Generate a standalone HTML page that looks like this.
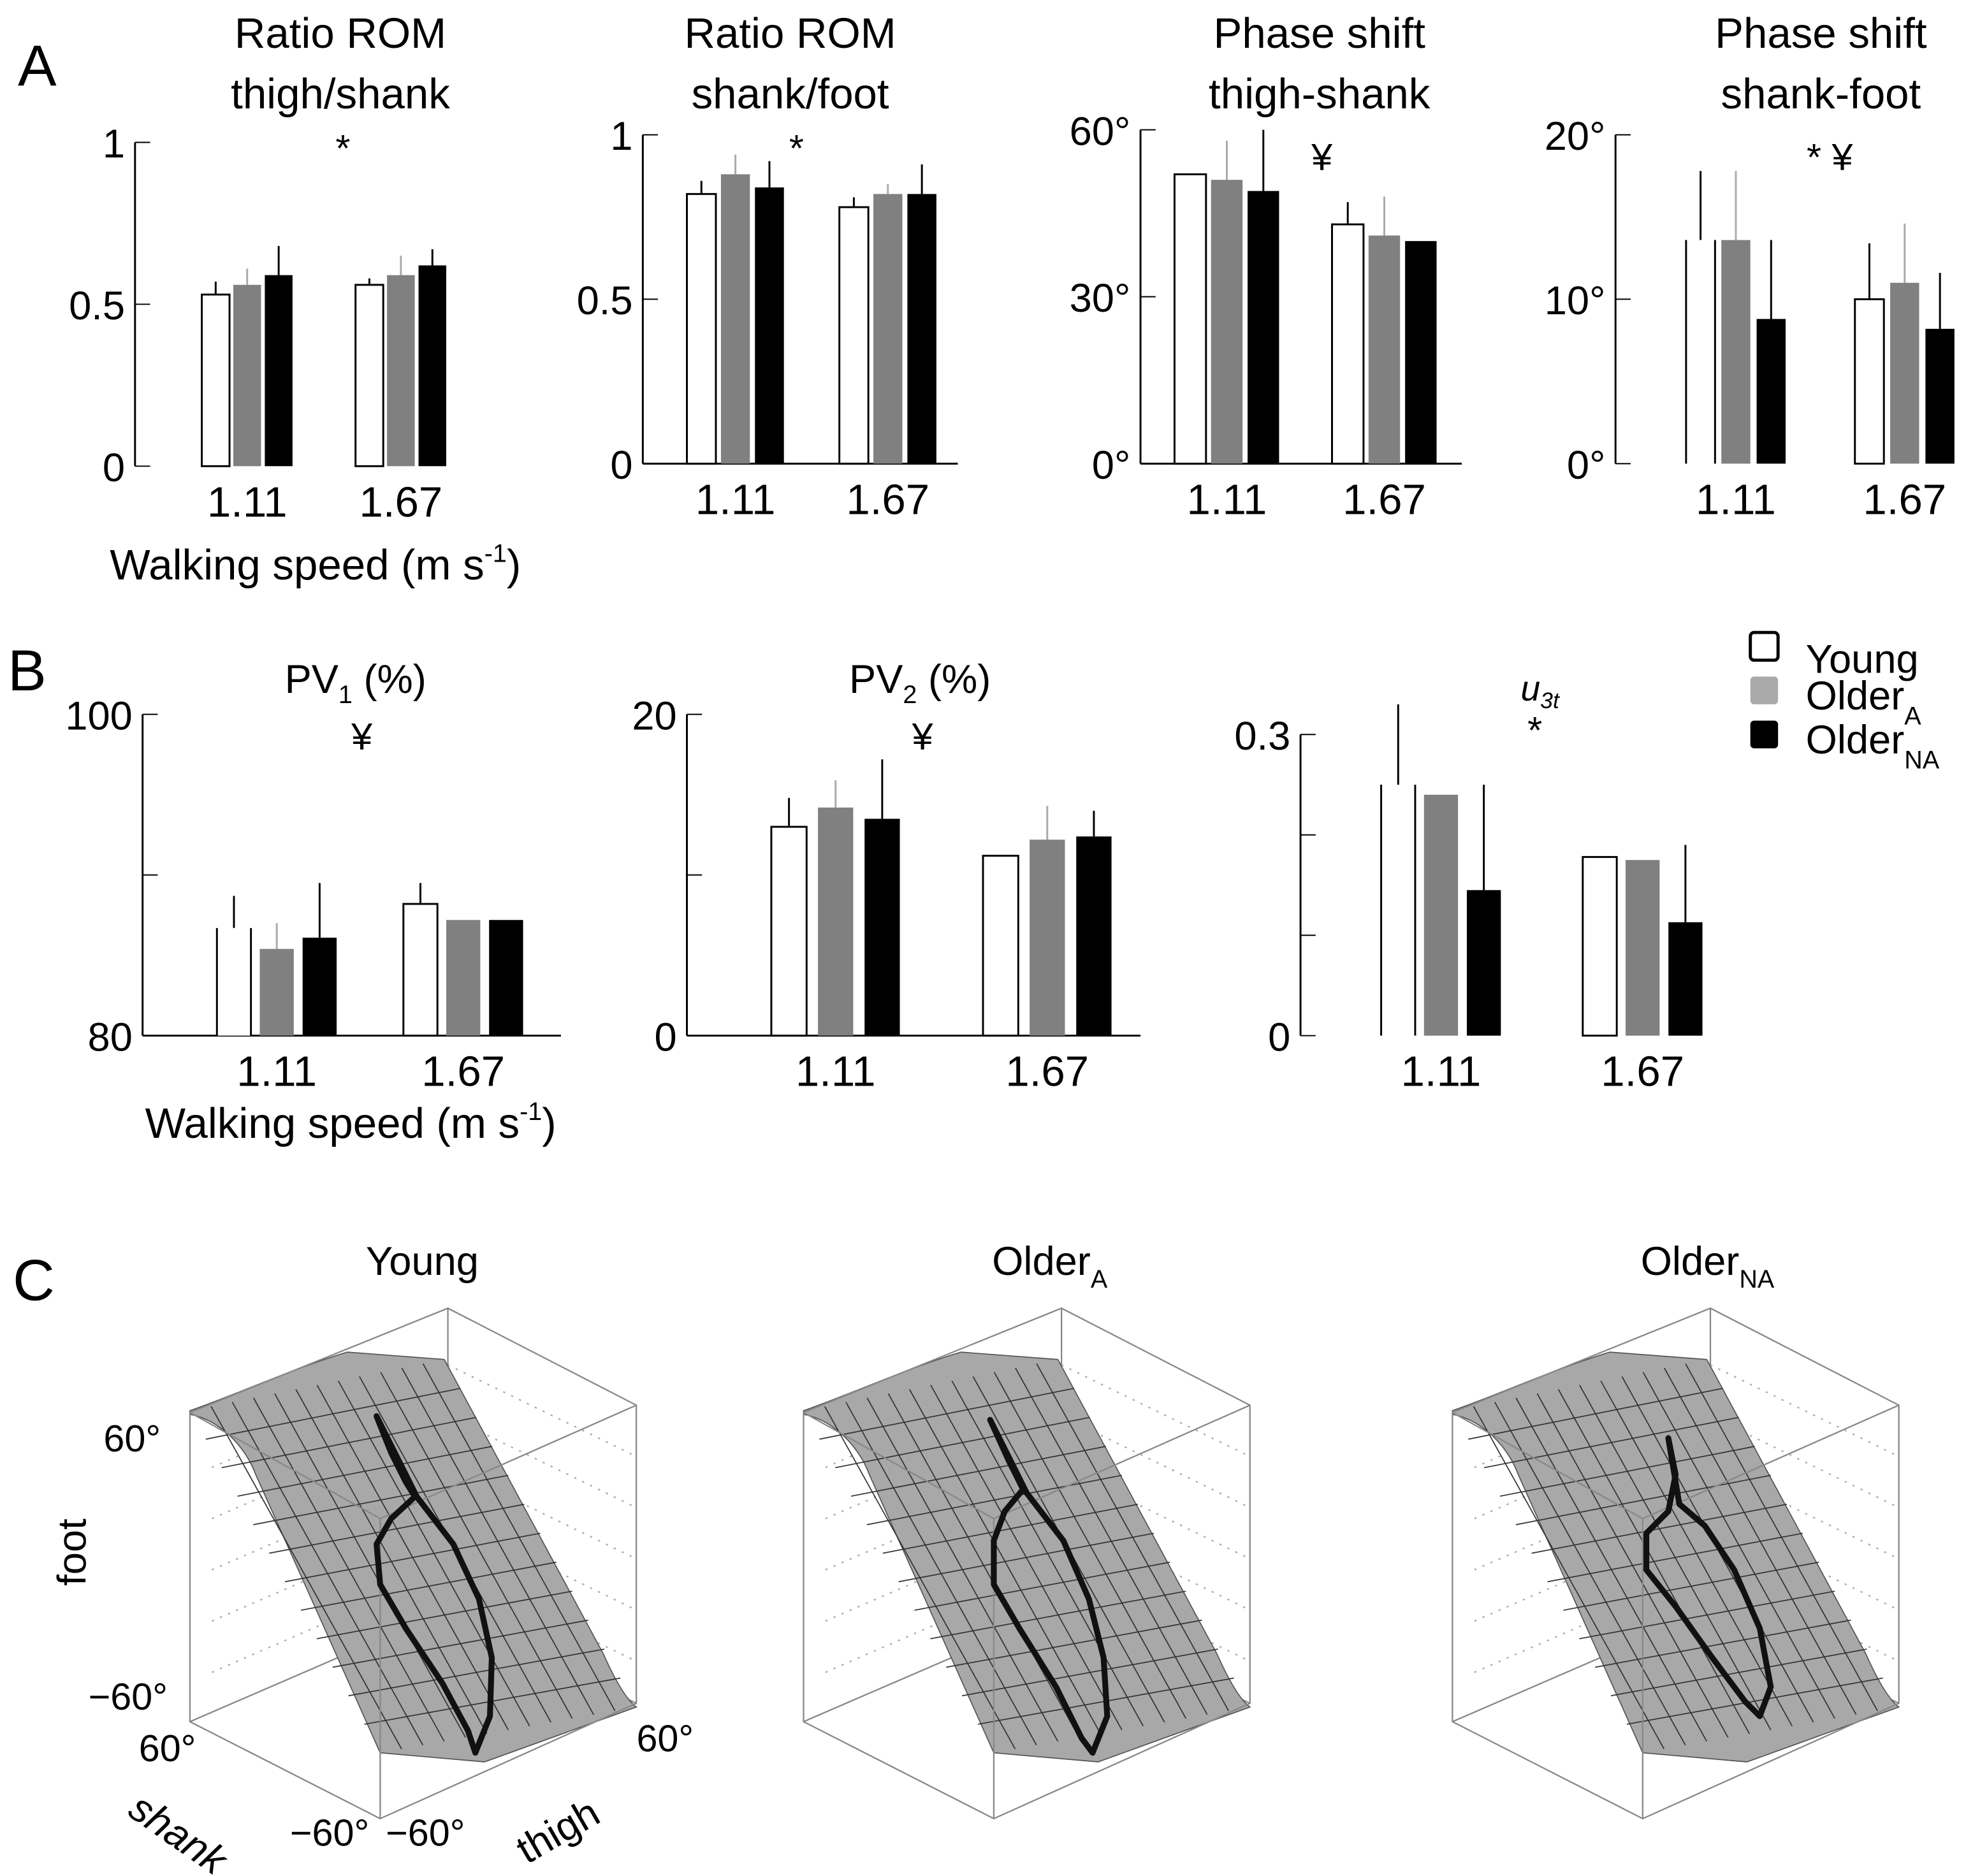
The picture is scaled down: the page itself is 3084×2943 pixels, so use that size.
<!DOCTYPE html>
<html><head><meta charset="utf-8">
<style>
html,body{margin:0;padding:0;background:#fff;}
svg{display:block;}
text{font-family:"Liberation Sans","DejaVu Sans",sans-serif;fill:#000;}
</style></head>
<body>
<svg id="fig" xmlns="http://www.w3.org/2000/svg" width="3084" height="2943" viewBox="0 0 1560 1489">
<rect width="1560" height="1489" fill="#fff"/>
<g id="charts"></g>
<g id="legend">
  <rect x="1389" y="502" width="22" height="22" rx="3" fill="#fff" stroke="#000" stroke-width="2.5"/>
  <text x="1433" y="534" font-size="32">Young</text>
  <rect x="1389" y="537" width="22" height="22" rx="3" fill="#aaa"/>
  <text x="1433" y="563" font-size="32">Older<tspan font-size="20" dy="12">A</tspan></text>
  <rect x="1389" y="572" width="22" height="22" rx="3" fill="#000"/>
  <text x="1433" y="598" font-size="32">Older<tspan font-size="20" dy="12">NA</tspan></text>
</g>
<g id="panelC"></g>
<g>
  <text x="335" y="1012" font-size="32" text-anchor="middle">Young</text>
  <text x="833" y="1012" font-size="32" text-anchor="middle">Older<tspan font-size="20" dy="10">A</tspan></text>
  <text x="1355" y="1012" font-size="32" text-anchor="middle">Older<tspan font-size="20" dy="10">NA</tspan></text>
  <text x="82" y="1152" font-size="30">60°</text>
  <text x="70" y="1357" font-size="30">−60°</text>
  <text transform="translate(68,1232) rotate(-90)" font-size="32" text-anchor="middle">foot</text>
  <text x="110" y="1398" font-size="30">60°</text>
  <text transform="translate(100,1440) rotate(35)" font-size="32" font-style="italic">shank</text>
  <text x="230" y="1465" font-size="30">−60°</text>
  <text x="306" y="1465" font-size="30">−60°</text>
  <text transform="translate(418,1480) rotate(-30)" font-size="32">thigh</text>
  <text x="505" y="1390" font-size="30">60°</text>
</g>
<g>
  <text x="14" y="68" font-size="46">A</text>
  <text x="6" y="548" font-size="46">B</text>
  <text x="10" y="1032" font-size="46">C</text>
</g>
</svg>
<script>
// ---- chart data ----
const groupCats = ["1.11","1.67"];
const romThighShankMean = [[0.53,0.56,0.59],[0.56,0.59,0.62]];
const romThighShankErr  = [[0.57,0.61,0.68],[0.58,0.65,0.67]];
const romShankFootMean = [[0.82,0.88,0.84],[0.78,0.82,0.82]];
const romShankFootErr  = [[0.86,0.94,0.92],[0.81,0.85,0.91]];
const phaseThighShankMean = [[52,51,49],[43,41,40]];
const phaseThighShankErr  = [[52,58,60],[47,48,40]];
const phaseShankFootMean = [[13.6,13.6,8.8],[10,11,8.2]];
const phaseShankFootErr  = [[17.8,17.8,13.6],[13.4,14.6,11.6]];
const pv1Mean = [[86.7,85.4,86.1],[88.2,87.2,87.2]];
const pv1Err  = [[88.7,87.0,89.5],[89.5,87.2,87.2]];
const pv2Mean = [[13.0,14.2,13.5],[11.2,12.2,12.4]];
const pv2Err  = [[14.8,15.9,17.2],[11.2,14.3,14.0]];
const u3tMean = [[0.25,0.24,0.145],[0.178,0.175,0.113]];
const u3tErr  = [[0.33,0.24,0.25],[0.178,0.175,0.19]];
const tickRom = ["0","0.5","1"];
const tickPhase60 = ["0°","30°","60°"];
const tickPhase20 = ["0°","10°","20°"];
const tickPv1 = ["80","100"];
const tickPv2 = ["0","20"];
const tickU3t = ["0","0.3"];

const NS="http://www.w3.org/2000/svg";
const fills=["#fff","#808080","#000"];
const seriesNames=["young","older-a","older-na"];
function mk(tag,attrs,parent){const e=document.createElementNS(NS,tag);for(const k in attrs)e.setAttribute(k,attrs[k]);parent.appendChild(e);return e;}

const charts=[
 {id:"rom-thigh-shank",ax:107,x1:360,top:113,bot:370,min:0,max:1,ticks:tickRom,tv:[0,0.5,1],mean:romThighShankMean,err:romThighShankErr,g0:[160,282],bw:22,gap:3,title:["Ratio ROM","thigh/shank"],tx:270,sig:"*",sigx:272,sigy:128,xlab:true,lx:87,ly:460},
 {id:"rom-shank-foot",ax:510,x1:760,top:107,bot:368,min:0,max:1,ticks:tickRom,tv:[0,0.5,1],mean:romShankFootMean,err:romShankFootErr,g0:[545,666],bw:23,gap:4,title:["Ratio ROM","shank/foot"],tx:627,sig:"*",sigx:632,sigy:128,full:true},
 {id:"phase-thigh-shank",ax:905,x1:1160,top:103,bot:368,min:0,max:60,ticks:tickPhase60,tv:[0,30,60],mean:phaseThighShankMean,err:phaseThighShankErr,g0:[932,1057],bw:25,gap:4,title:["Phase shift","thigh-shank"],tx:1047,sig:"¥",sigx:1049,sigy:135,full:true},
 {id:"phase-shank-foot",ax:1282,x1:1560,top:107,bot:368,min:0,max:20,ticks:tickPhase20,tv:[0,10,20],mean:phaseShankFootMean,err:phaseShankFootErr,g0:[1338,1472],bw:23,gap:5,title:["Phase shift","shank-foot"],tx:1445,sig:"* ¥",sigx:1452,sigy:135,noWhiteTop:[true,false]},
 {id:"pv1",ax:113,x1:445,top:567,bot:822,min:80,max:100,ticks:tickPv1,tv:[80,100],mid:90,mean:pv1Mean,err:pv1Err,g0:[172,320],bw:27,gap:7,title:["PV1 (%)"],sub:true,tx:282,ty1:550,sig:"¥",sigx:287,sigy:595,full:true,xlab:true,lx:115,ly:903,noWhiteTop:[true,false]},
 {id:"pv2",ax:545,x1:905,top:567,bot:822,min:0,max:20,ticks:tickPv2,tv:[0,20],mid:10,mean:pv2Mean,err:pv2Err,g0:[612,780],bw:28,gap:9,title:["PV2 (%)"],sub:true,tx:730,ty1:550,sig:"¥",sigx:732,sigy:595,full:true},
 {id:"u3t",ax:1032,x1:1370,top:583,bot:822,min:0,max:0.3,ticks:tickU3t,tv:[0,0.3],mids:[0.1,0.2],mean:u3tMean,err:u3tErr,g0:[1096,1256],bw:27,gap:7,title:[],tx:1222,sig:"*",sigx:1218,sigy:590,u3t:true,noWhiteTop:[true,false]}
];
const root=document.getElementById('charts');
charts.forEach(c=>{
  const g=mk('g',{},root);
  
  
  const y=v=>c.bot-(v-c.min)/(c.max-c.min)*(c.bot-c.top);
  const ax=mk('line',{x1:c.ax,x2:c.ax,y1:c.top,y2:c.bot,stroke:'#000','stroke-width':1.5},g);
  
  
  if(c.full){const xa=mk('line',{x1:c.ax,x2:c.x1,y1:c.bot,y2:c.bot,stroke:'#000','stroke-width':1.5},g);
    
    }
  c.tv.forEach((v,i)=>{
    mk('line',{x1:c.ax,x2:c.ax+12,y1:y(v),y2:y(v),stroke:'#000','stroke-width':1},g);
    const t=mk('text',{x:c.ax-8,y:y(v)+12,'font-size':32,'text-anchor':'end'},g);t.textContent=c.ticks[i];
    
    
  });
  (c.mid!==undefined?[c.mid]:(c.mids||[])).forEach(v=>mk('line',{x1:c.ax,x2:c.ax+12,y1:y(v),y2:y(v),stroke:'#000','stroke-width':1},g));
  groupCats.forEach((cat,gi)=>{
    const x0=c.g0[gi];
    for(let s=0;s<3;s++){
      const bx=x0+s*(c.bw+c.gap);
      const m=c.mean[gi][s], e=c.err[gi][s];
      const ex=bx+c.bw/2;
      if(e>m){const el=mk('line',{x1:ex,x2:ex,y1:y(e),y2:y(m),stroke:s==1?'#aaa':'#000','stroke-width':1.5},g);
        
        }
      const r=mk('rect',{x:bx,y:y(m),width:c.bw,height:c.bot-y(m),fill:fills[s],stroke:s==0?'#000':'none','stroke-width':1.5},g);
      
      
      if(s==0&&c.noWhiteTop&&c.noWhiteTop[gi]){r.setAttribute('stroke','none');
        mk('line',{x1:bx,x2:bx,y1:y(m),y2:c.bot,stroke:'#000','stroke-width':1.5},g);
        mk('line',{x1:bx+c.bw,x2:bx+c.bw,y1:y(m),y2:c.bot,stroke:'#000','stroke-width':1.5},g);}
    }
    const cx=x0+1.5*c.bw+c.gap;
    const t=mk('text',{x:cx,y:c.bot+40,'font-size':34,'text-anchor':'middle'},g);t.textContent=cat;
    
    
  });
  if(c.title.length==2){c.title.forEach((s,i)=>{const t=mk('text',{x:c.tx,y:38+i*48,'font-size':34,'text-anchor':'middle'},g);t.textContent=s;
    
    });}
  if(c.sub){const t=mk('text',{x:c.tx,y:c.ty1,'font-size':32,'text-anchor':'middle'},g);
    
    
    const parts=c.title[0].split(' ');t.innerHTML=parts[0].slice(0,2)+'<tspan font-size="20" dy="8">'+parts[0].slice(2)+'</tspan><tspan dy="-8"> '+parts[1]+'</tspan>';}
  if(c.u3t){const t=mk('text',{x:1222,y:556,'font-size':28,'font-style':'italic','text-anchor':'middle',fill:'#555'},g);
    
    
    t.innerHTML='u<tspan font-size="18" dy="6">3t</tspan>';}
  const sg=mk('text',{x:c.sigx,y:c.sigy,'font-size':30,'text-anchor':'middle'},g);sg.textContent=c.sig;
  
  
  if(c.xlab){const t=mk('text',{x:c.lx,y:c.ly,'font-size':34},g);
    
    
    t.innerHTML='Walking speed (m s<tspan font-size="20" dy="-14">-1</tspan><tspan dy="14">)</tspan>';}
});

// ---- panel C (3D surfaces) ----
const boxOffsets=[0,487,1002];
const loopYoung=[[680,300],[720,400],[760,480],[785,520],[720,580],[680,650],[690,760],[760,880],[860,1030],[930,1160],[950,1220],[990,1120],[995,960],[960,800],[890,650],[790,520]];
const loopOlderA=[[680,310],[730,420],[770,500],[720,560],[690,640],[690,760],[760,880],[860,1040],[930,1180],[960,1220],[1000,1120],[990,960],[950,800],[880,640],[780,510]];
const loopOlderNA=[[760,360],[780,460],[760,560],[700,620],[700,720],[780,820],[880,960],[970,1080],[1010,1120],[1040,1040],[1010,880],[940,720],[860,600],[790,540]];
const loops=[loopYoung,loopOlderA,loopOlderNA];
const pc=document.getElementById('panelC');
boxOffsets.forEach((dx,bi)=>{
  const g=mk('g',{transform:`translate(${101.2+dx},1036.9) scale(0.2904)`},pc);
  
  
  const st={stroke:'#888','stroke-width':4,fill:'none'};
  // back edges
  mk('polyline',Object.assign({points:'875,5 875,830 170,1135'},st),g);
  mk('line',Object.assign({x1:875,y1:830,x2:1390,y2:1085},st),g);
  // dotted grid lines on back walls
  for(let i=1;i<6;i++){const yy=290+i*140;
    mk('line',{x1:230,y1:yy+10,x2:875,y2:yy-270,stroke:'#aaa','stroke-width':4,'stroke-dasharray':'6 18'},g);
    mk('line',{x1:875,y1:yy-270,x2:1390,y2:yy-20,stroke:'#aaa','stroke-width':4,'stroke-dasharray':'6 18'},g);}
  // surface
  mk('path',{d:'M170,285 C300,240 450,170 600,125 L865,145 L1300,950 C1340,1040 1370,1080 1390,1095 L975,1245 L690,1220 L350,460 C320,380 250,310 170,295 Z',fill:'#a8a8a8',stroke:'#555','stroke-width':3},g);
  const TL=[170,285],TR=[865,145],BR=[1390,1095],BL=[690,1220];
  const lerp=(a,b,t)=>[a[0]+(b[0]-a[0])*t,a[1]+(b[1]-a[1])*t];
  for(let i=1;i<12;i++){const t=i/12;const a=lerp(TL,TR,t),b=lerp(BL,BR,t);
    mk('line',{x1:a[0],y1:a[1],x2:b[0],y2:b[1],stroke:'#333','stroke-width':3},g);}
  for(let i=1;i<12;i++){const t=i/12;const a=lerp(TL,BL,t),b=lerp(TR,BR,t);
    mk('line',{x1:a[0],y1:a[1],x2:b[0],y2:b[1],stroke:'#333','stroke-width':3},g);}
  // front edges
  mk('polyline',Object.assign({points:'170,290 875,5 1390,270 1390,1085 690,1400 170,1135 170,290'},st),g);
  mk('polyline',Object.assign({points:'170,290 690,580 1390,270'},st),g);
  mk('line',Object.assign({x1:690,y1:580,x2:690,y2:1400},st),g);
  // loop
  const p=mk('polygon',{points:loops[bi].map(q=>q.join(',')).join(' '),fill:'none',stroke:'#111','stroke-width':16,'stroke-linejoin':'round'},g);
  
  
});
</script>
</body></html>
